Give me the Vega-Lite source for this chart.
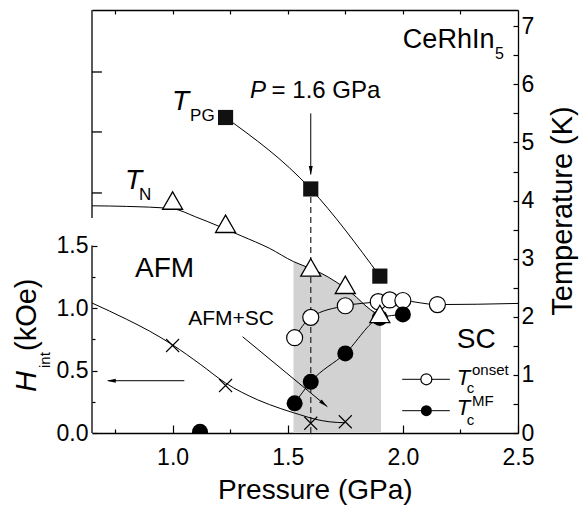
{
 "$schema":"https://vega.github.io/schema/vega-lite/v6.json",
 "width":426,"height":423,
 "autosize":{"type":"none"},
 "padding":{"left":92,"top":10,"right":64,"bottom":73},
 "background":"white",
 "config":{"view":{"stroke":null},"font":"Liberation Sans","axis":{"grid":false,"domainColor":"#000","domainWidth":1.3,"tickColor":"#000","tickWidth":1.2,"labelColor":"#000","labelFont":"Liberation Sans","labelFontSize":23,"labelFlush":false,"labelOverlap":false,"labelBound":false}},
 "datasets":{
  "band":[{"P":1.525,"T":2.95},{"P":1.6,"T":2.83},{"P":1.64,"T":2.76},{"P":1.71,"T":2.6},{"P":1.78,"T":2.4},{"P":1.86,"T":2.12},{"P":1.905,"T":2.0}],
  "dash":[{"P":1.6,"T":0,"T2":4.2}],
  "hfit":[{"P":0.65,"H":1.04},{"P":0.8,"H":0.91},{"P":0.9,"H":0.815},{"P":1.0,"H":0.705},{"P":1.12,"H":0.55},{"P":1.23,"H":0.4},{"P":1.37,"H":0.265},{"P":1.47,"H":0.195},{"P":1.55,"H":0.148},{"P":1.62,"H":0.11},{"P":1.68,"H":0.09},{"P":1.75,"H":0.082}],
  "hx":[{"P":1.0,"H":0.7},{"P":1.23,"H":0.38},{"P":1.6,"H":0.078},{"P":1.75,"H":0.09}],
  "tnfit":[{"P":0.65,"T":3.91},{"P":0.8,"T":3.9},{"P":1.0,"T":3.86},{"P":1.1,"T":3.72},{"P":1.2,"T":3.56},{"P":1.3,"T":3.39},{"P":1.42,"T":3.18},{"P":1.525,"T":2.95},{"P":1.6,"T":2.83},{"P":1.64,"T":2.76},{"P":1.71,"T":2.6},{"P":1.78,"T":2.4},{"P":1.86,"T":2.12},{"P":1.9,"T":2.02}],
  "tn":[{"P":1.0,"T":4.0},{"P":1.23,"T":3.6},{"P":1.6,"T":2.85},{"P":1.75,"T":2.55},{"P":1.9,"T":2.05}],
  "tpg":[{"P":1.23,"T":5.43},{"P":1.6,"T":4.2},{"P":1.9,"T":2.7}],
  "onset":[{"P":1.53,"T":1.64},{"P":1.6,"T":1.99},{"P":1.75,"T":2.19},{"P":1.893,"T":2.26},{"P":1.943,"T":2.29},{"P":2.0,"T":2.28},{"P":2.15,"T":2.21}],
  "onsetline":[{"P":1.53,"T":1.64},{"P":1.6,"T":1.99},{"P":1.75,"T":2.19},{"P":1.893,"T":2.26},{"P":1.943,"T":2.29},{"P":2.0,"T":2.28},{"P":2.15,"T":2.21},{"P":2.5,"T":2.23}],
  "mf":[{"P":1.119,"T":0.02},{"P":1.53,"T":0.51},{"P":1.6,"T":0.88},{"P":1.75,"T":1.37},{"P":1.9,"T":1.98},{"P":2.0,"T":2.04}],
  "mfline":[{"P":1.53,"T":0.51},{"P":1.6,"T":0.88},{"P":1.75,"T":1.37},{"P":1.9,"T":1.98},{"P":2.0,"T":2.04}],
  "rules":[{"P":1.6,"P2":1.6,"T":5.5,"T2":4.45},{"P":1.304,"P2":1.672,"T":1.657,"T2":0.453},{"P":1.051,"P2":0.72,"T":0.9,"T2":0.9},{"P":1.997,"P2":2.204,"T":0.924,"T2":0.924},{"P":1.997,"P2":2.204,"T":0.384,"T2":0.384}],
  "frame":[{"P":0.65,"P2":0.65,"T":0,"T2":3.227},{"P":0.65,"P2":0.65,"T":3.7,"T2":7.28},{"P":0.65,"P2":0.693,"T":4.131,"T2":4.131},{"P":0.65,"P2":0.693,"T":5.181,"T2":5.181},{"P":0.65,"P2":0.693,"T":6.213,"T2":6.213}],
  "headDown":[{"P":1.6,"T":4.44}],
  "headLeft":[{"P":0.714,"T":0.9}],
  "headDiag":[{"P":1.672,"T":0.453}],
  "legOpen":[{"P":2.102,"T":0.924}],
  "legFill":[{"P":2.102,"T":0.384}],
  "t_it27":[{"P":0.997,"T":5.56,"text":"T"},{"P":0.793,"T":4.2,"text":"T"}],
  "t_sub17":[{"P":1.076,"T":5.375,"text":"PG"},{"P":0.854,"T":4.01,"text":"N"}],
  "t_it24":[{"P":1.336,"T":5.761,"text":"P"}],
  "t_24":[{"P":1.43,"T":5.761,"text":"= 1.6 GPa"}],
  "t_28":[{"P":0.837,"T":2.685,"text":"AFM"},{"P":2.234,"T":1.458,"text":"SC"}],
  "t_27":[{"P":2.0,"T":6.621,"text":"CeRhIn"}],
  "t_16":[{"P":2.4,"T":6.437,"text":"5"}],
  "t_21":[{"P":1.068,"T":1.859,"text":"AFM+SC"}],
  "t_it21":[{"P":2.234,"T":0.826,"text":"T"},{"P":2.234,"T":0.31,"text":"T"}],
  "t_15":[{"P":2.3,"T":0.998,"text":"onset"},{"P":2.3,"T":0.465,"text":"MF"},{"P":2.277,"T":0.683,"text":"c"},{"P":2.277,"T":0.138,"text":"c"}],
  "t_vit":[{"P":0.407,"T":0.706,"text":"H"}],
  "t_v15":[{"P":0.468,"T":1.119,"text":"int"}],
  "t_v29":[{"P":0.407,"T":1.411,"text":"(kOe)"}],
  "t_vc":[{"P":2.734,"T":3.821,"text":"Temperature (K)"}],
  "t_xt":[{"P":1.62,"T":-1.135,"text":"Pressure (GPa)"}]
 },
 "encoding":{
  "x":{"field":"P","type":"quantitative","scale":{"domain":[0.65,2.5],"nice":false},"axis":null},
  "y":{"field":"T","type":"quantitative","scale":{"domain":[0,7.28],"nice":false},"axis":null}
 },
 "layer":[
  {"data":{"name":"band"},"mark":{"type":"area","color":"#d2d2d2","opacity":1}},
  {"data":{"name":"dash"},"mark":{"type":"rule","color":"#333","strokeWidth":1.3,"strokeDash":[6,4]},"encoding":{"y2":{"field":"T2"}}},
  {"data":{"name":"hfit"},"mark":{"type":"line","color":"#000","strokeWidth":1,"interpolate":"monotone"},
   "encoding":{"y":{"field":"H","type":"quantitative","scale":{"domain":[0,3.384],"nice":false},"axis":{"orient":"left","values":[0.25,0.75,1.25],"tickSize":-3,"labels":false,"domain":false,"title":null}}}},
  {"data":{"name":"hx"},"mark":{"type":"point","shape":"M-1,-1L1,1M-1,1L1,-1","size":169,"filled":false,"color":"#000","strokeWidth":1.1,"opacity":1},
   "encoding":{"y":{"field":"H","type":"quantitative","scale":{"domain":[0,3.384],"nice":false},"axis":{"orient":"left","values":[0,0.5,1,1.5],"format":".1f","tickSize":-5,"labelPadding":9,"domain":false,"title":null}}}},
  {"data":{"name":"tnfit"},"mark":{"type":"line","color":"#000","strokeWidth":1,"interpolate":"monotone"}},
  {"data":{"name":"tpg"},"mark":{"type":"line","color":"#000","strokeWidth":1,"interpolate":"monotone"}},
  {"data":{"name":"onsetline"},"mark":{"type":"line","color":"#000","strokeWidth":1,"interpolate":"monotone"}},
  {"data":{"name":"mfline"},"mark":{"type":"line","color":"#000","strokeWidth":1,"interpolate":"monotone"}},
  {"data":{"name":"rules"},"mark":{"type":"rule","color":"#000","strokeWidth":1},"encoding":{"x2":{"field":"P2"},"y2":{"field":"T2"}}},
  {"data":{"name":"frame"},"mark":{"type":"rule","color":"#000","strokeWidth":1.3},"encoding":{"x2":{"field":"P2"},"y2":{"field":"T2"}}},
  {"data":{"name":"headDown"},"mark":{"type":"point","shape":"M0,0L-0.22,-1L0.22,-1Z","filled":true,"color":"#000","opacity":1,"size":324,"angle":0}},
  {"data":{"name":"headLeft"},"mark":{"type":"point","shape":"M0,0L-0.22,-1L0.22,-1Z","filled":true,"color":"#000","opacity":1,"size":324,"angle":90}},
  {"data":{"name":"headDiag"},"mark":{"type":"point","shape":"M0,0L-0.22,-1L0.22,-1Z","filled":true,"color":"#000","opacity":1,"size":324,"angle":309.6}},
  {"data":{"name":"onset"},"mark":{"type":"point","shape":"circle","filled":true,"fill":"#fff","stroke":"#000","strokeWidth":1.2,"size":256,"opacity":1},
   "encoding":{"x":{"field":"P","type":"quantitative","scale":{"domain":[0.65,2.5],"nice":false},"axis":{"orient":"top","values":[0.75,1,1.25,1.5,1.75,2,2.25],"tickSize":-4,"labels":false,"domain":true,"title":null}}}},
  {"data":{"name":"mf"},"mark":{"type":"point","shape":"circle","filled":true,"color":"#000","size":256,"opacity":1,"clip":true}},
  {"data":{"name":"tn"},"mark":{"type":"point","shape":"triangle-up","filled":true,"fill":"#fff","stroke":"#000","strokeWidth":1.3,"size":400,"opacity":1},
   "encoding":{"x":{"field":"P","type":"quantitative","scale":{"domain":[0.65,2.5],"nice":false},"axis":{"orient":"bottom","values":[0.75,1.25,1.75,2.25],"tickSize":-4,"labels":false,"domain":false,"title":null}}}},
  {"data":{"name":"tpg"},"mark":{"type":"point","shape":"square","filled":true,"color":"#111","size":230,"opacity":1},
   "encoding":{"x":{"field":"P","type":"quantitative","scale":{"domain":[0.65,2.5],"nice":false},"axis":{"orient":"bottom","values":[1,1.5,2,2.5],"format":".1f","tickSize":-8,"labelPadding":21,"domain":true,"title":null}},
    "y":{"field":"T","type":"quantitative","scale":{"domain":[0,7.28],"nice":false},"axis":{"orient":"right","values":[0,0.5,1,1.5,2,2.5,3,3.5,4,4.5,5,5.5,6,6.5,7],"labelExpr":"datum.value % 1 === 0 ? format(datum.value, 'd') : ''","tickSize":-5,"labelPadding":8,"domain":true,"title":null}}}},
  {"data":{"name":"legOpen"},"mark":{"type":"point","shape":"circle","filled":true,"fill":"#fff","stroke":"#000","strokeWidth":1.2,"size":121,"opacity":1}},
  {"data":{"name":"legFill"},"mark":{"type":"point","shape":"circle","filled":true,"color":"#000","size":121,"opacity":1}},
  {"data":{"name":"t_it27"},"mark":{"type":"text","align":"left","baseline":"alphabetic","fontSize":28,"fontStyle":"italic","color":"#000"},"encoding":{"text":{"field":"text"}}},
  {"data":{"name":"t_sub17"},"mark":{"type":"text","align":"left","baseline":"alphabetic","fontSize":17,"color":"#000"},"encoding":{"text":{"field":"text"}}},
  {"data":{"name":"t_it24"},"mark":{"type":"text","align":"left","baseline":"alphabetic","fontSize":24,"fontStyle":"italic","color":"#000"},"encoding":{"text":{"field":"text"}}},
  {"data":{"name":"t_24"},"mark":{"type":"text","align":"left","baseline":"alphabetic","fontSize":24,"color":"#000"},"encoding":{"text":{"field":"text"}}},
  {"data":{"name":"t_28"},"mark":{"type":"text","align":"left","baseline":"alphabetic","fontSize":28,"color":"#000"},"encoding":{"text":{"field":"text"}}},
  {"data":{"name":"t_27"},"mark":{"type":"text","align":"left","baseline":"alphabetic","fontSize":27,"color":"#000"},"encoding":{"text":{"field":"text"}}},
  {"data":{"name":"t_16"},"mark":{"type":"text","align":"left","baseline":"alphabetic","fontSize":16,"color":"#000"},"encoding":{"text":{"field":"text"}}},
  {"data":{"name":"t_21"},"mark":{"type":"text","align":"left","baseline":"alphabetic","fontSize":21,"color":"#000"},"encoding":{"text":{"field":"text"}}},
  {"data":{"name":"t_it21"},"mark":{"type":"text","align":"left","baseline":"alphabetic","fontSize":22,"fontStyle":"italic","color":"#000"},"encoding":{"text":{"field":"text"}}},
  {"data":{"name":"t_15"},"mark":{"type":"text","align":"left","baseline":"alphabetic","fontSize":15,"color":"#000"},"encoding":{"text":{"field":"text"}}},
  {"data":{"name":"t_vit"},"mark":{"type":"text","align":"left","baseline":"alphabetic","fontSize":29,"fontStyle":"italic","angle":270,"color":"#000"},"encoding":{"text":{"field":"text"}}},
  {"data":{"name":"t_v15"},"mark":{"type":"text","align":"left","baseline":"alphabetic","fontSize":15,"angle":270,"color":"#000"},"encoding":{"text":{"field":"text"}}},
  {"data":{"name":"t_v29"},"mark":{"type":"text","align":"left","baseline":"alphabetic","fontSize":29,"angle":270,"color":"#000"},"encoding":{"text":{"field":"text"}}},
  {"data":{"name":"t_vc"},"mark":{"type":"text","align":"center","baseline":"alphabetic","fontSize":29,"angle":270,"color":"#000"},"encoding":{"text":{"field":"text"}}},
  {"data":{"name":"t_xt"},"mark":{"type":"text","align":"center","baseline":"alphabetic","fontSize":28,"color":"#000"},"encoding":{"text":{"field":"text"}}}
 ],
 "resolve":{"scale":{"x":"independent","y":"independent"}}
}
